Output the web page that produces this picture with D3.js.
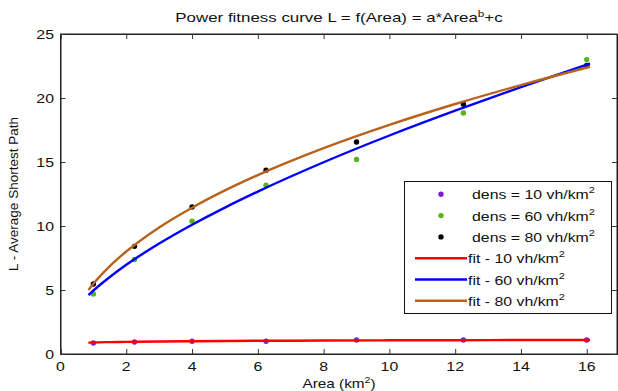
<!DOCTYPE html>
<html><head><meta charset="utf-8">
<script src="https://cdn.jsdelivr.net/npm/d3@7"></script>
<style>
html,body{margin:0;padding:0;background:#fff;}
svg{display:block;font-family:"Liberation Sans",Arial,Helvetica,sans-serif;}
</style></head>
<body>
<svg id="chart" width="618" height="391"></svg>
<script>
// ---- data ----
const areas = [1, 2.25, 4, 6.25, 9, 12.25, 16];
const dens10 = [0.86, 0.94, 1.0, 1.0, 1.09, 1.09, 1.09];
const dens60 = [4.69, 7.38, 10.38, 13.18, 15.2, 18.83, 23.0];
const dens80 = [5.47, 8.41, 11.48, 14.36, 16.56, 19.51, 22.55];

const fitX = [0.85, 1, 1.5, 2, 3, 4, 5, 6, 8, 10, 12, 14, 16.1];
const fit10 = [0.88, 0.9, 0.93, 0.95, 0.98, 1.0, 1.02, 1.03, 1.05, 1.07, 1.08, 1.09, 1.09];
const fit60 = [4.60, 4.96, 6.02, 6.97, 8.63, 10.10, 11.44, 12.69, 14.98, 17.07, 19.01, 20.85, 22.70];
const fit80 = [5.00, 5.49, 6.87, 8.01, 9.89, 11.43, 12.78, 13.98, 16.08, 17.90, 19.53, 21.01, 22.44];

const xTicks = [0, 2, 4, 6, 8, 10, 12, 14, 16];
const yTicks = [0, 5, 10, 15, 20, 25];
const xLimits = [0, 16.92];
const yLimits = [0, 25];

const pointLabels = ["dens = 10 vh/km", "dens = 60 vh/km", "dens = 80 vh/km"];
const fitLabels = ["fit - 10 vh/km", "fit - 60 vh/km", "fit - 80 vh/km"];
const pointColors = ["#7a1fd6", "#55b31b", "#000000"];
const fitColors = ["#ff0000", "#0000ff", "#b8621b"];

// ---- layout ----
const svg = d3.select("#chart");
const L = 60.5, R = 617, T = 34, B = 354;
const SX = 1.22; // horizontal text stretch of reference
const x = d3.scaleLinear().domain(xLimits).range([L, R]);
const y = d3.scaleLinear().domain(yLimits).range([B, T]);

function stretchedText(g, px, py, anchor, sx) {
  return g.append("g").attr("transform", `translate(${px},${py}) scale(${sx},1)`)
    .append("text").attr("text-anchor", anchor);
}

// frame
svg.append("rect").attr("x", L).attr("y", T).attr("width", R - L).attr("height", B - T)
  .attr("fill", "none").attr("stroke", "#222").attr("stroke-width", 1);

// axes with inward ticks
const tickLen = 5;
const gx = svg.append("g").attr("transform", `translate(0,${B})`)
  .call(d3.axisBottom(x).tickValues(xTicks).tickSize(-tickLen).tickFormat(""));
const gxTop = svg.append("g").attr("transform", `translate(0,${T})`)
  .call(d3.axisTop(x).tickValues(xTicks).tickSize(-tickLen).tickFormat(""));
const gy = svg.append("g").attr("transform", `translate(${L},0)`)
  .call(d3.axisLeft(y).tickValues(yTicks).tickSize(-tickLen).tickFormat(""));
const gyR = svg.append("g").attr("transform", `translate(${R},0)`)
  .call(d3.axisRight(y).tickValues(yTicks).tickSize(-tickLen).tickFormat(""));
[gx, gxTop, gy, gyR].forEach(g => {
  g.select(".domain").attr("stroke", "#222");
  g.selectAll(".tick line").attr("stroke", "#333");
});

// tick labels
xTicks.forEach(v => {
  stretchedText(svg, x(v), 371, "middle", SX).attr("font-size", 13).attr("fill", "#111").text(v);
});
yTicks.forEach(v => {
  stretchedText(svg, 54, y(v) + 4.7, "end", SX).attr("font-size", 13).attr("fill", "#111").text(v);
});

// title
const title = stretchedText(svg, 339, 22, "middle", 1.3).attr("font-size", 13).attr("fill", "#111");
title.append("tspan").text("Power fitness curve L = f(Area) = a*Area");
title.append("tspan").attr("font-size", 9).attr("dy", -5).text("b");
title.append("tspan").attr("dy", 5).text("+c");

// x label
const xl = stretchedText(svg, 339, 388, "middle", 1.18).attr("font-size", 13).attr("fill", "#111");
xl.append("tspan").text("Area (km");
xl.append("tspan").attr("font-size", 9).attr("dy", -5).text("2");
xl.append("tspan").attr("dy", 5).text(")");

// y label
svg.append("text").attr("transform", `translate(18,${(T + B) / 2}) rotate(-90)`)
  .attr("text-anchor", "middle").attr("font-size", 13.5).attr("fill", "#111")
  .text("L - Average Shortest Path");

// points
const pointSeries = [dens10, dens60, dens80];
pointSeries.forEach((vals, i) => {
  svg.append("g").selectAll("circle").data(areas).join("circle")
    .attr("cx", d => x(d)).attr("cy", (d, j) => y(vals[j])).attr("r", 2.7)
    .attr("fill", pointColors[i]);
});

// fit lines
const fitSeries = [fit10, fit60, fit80];
const line = d3.line().x(d => x(d[0])).y(d => y(d[1])).curve(d3.curveMonotoneX);
fitSeries.forEach((vals, i) => {
  svg.append("path").datum(fitX.map((v, j) => [v, vals[j]]))
    .attr("d", line).attr("fill", "none").attr("stroke", fitColors[i])
    .attr("stroke-width", 2.4).attr("stroke-linejoin", "round");
});

// legend
const lg = svg.append("g");
lg.append("rect").attr("x", 404.5).attr("y", 181.5).attr("width", 207).attr("height", 132)
  .attr("fill", "#fff").attr("stroke", "#111").attr("stroke-width", 1);
const rowY = d => 194.3 + d * 21.3;
pointLabels.forEach((lab, i) => {
  lg.append("circle").attr("cx", 441).attr("cy", rowY(i)).attr("r", 2.7).attr("fill", pointColors[i]);
  const t = stretchedText(lg, 472, rowY(i) + 5, "start", SX).attr("font-size", 13).attr("fill", "#111");
  t.append("tspan").text(lab);
  t.append("tspan").attr("font-size", 9).attr("dy", -6).text("2");
});
fitLabels.forEach((lab, k) => {
  const i = k + 3;
  lg.append("line").attr("x1", 415).attr("x2", 467).attr("y1", rowY(i)).attr("y2", rowY(i))
    .attr("stroke", fitColors[k]).attr("stroke-width", 2.6);
  const t = stretchedText(lg, 468, rowY(i) + 5, "start", SX).attr("font-size", 13).attr("fill", "#111");
  t.append("tspan").text(lab);
  t.append("tspan").attr("font-size", 9).attr("dy", -6).text("2");
});
</script>
</body></html>
